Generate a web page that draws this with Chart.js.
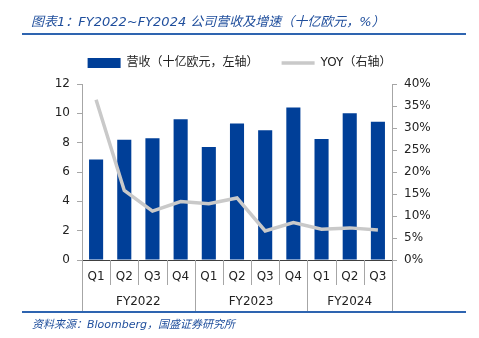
<!DOCTYPE html>
<html>
<head>
<meta charset="utf-8">
<script src="https://cdn.jsdelivr.net/npm/chart.js@4"></script>
<style>
  html, body { margin: 0; padding: 0; background: #fff; }
  #wrap { position: relative; width: 479px; height: 338px; overflow: hidden; }
  #title { position: absolute; left: 31px; top: 11px; font: italic 13px "DejaVu Sans", "Noto Sans CJK SC", sans-serif; color: #1f4e9c; white-space: nowrap; }
  #topline { position: absolute; left: 22px; top: 33px; width: 444px; height: 2px; background: #2e64b0; }
  #botline { position: absolute; left: 22px; top: 311px; width: 444px; height: 2px; background: #2e64b0; }
  #source { position: absolute; left: 32px; top: 315px; font: italic 11px "DejaVu Sans", "Noto Sans CJK SC", sans-serif; color: #1f4e9c; white-space: nowrap; }
  canvas { position: absolute; left: 0; top: 0; }
</style>
</head>
<body>
<div id="wrap">
  <canvas id="chart" width="479" height="338"></canvas>
  <div id="title">图表1：FY2022~FY2024 公司营收及增速（十亿欧元，%）</div>
  <div id="topline"></div>
  <div id="botline"></div>
  <div id="source">资料来源：Bloomberg，国盛证券研究所</div>
</div>
<script>
const quarters = ['Q1', 'Q2', 'Q3', 'Q4', 'Q1', 'Q2', 'Q3', 'Q4', 'Q1', 'Q2', 'Q3'];
const years = ['FY2022', 'FY2023', 'FY2024'];
const yearSizes = [4, 4, 3];
const revenue = [6.85, 8.2, 8.3, 9.6, 7.7, 9.3, 8.85, 10.4, 8.25, 10.0, 9.42];
const yoy = [36.4, 15.8, 11.1, 13.3, 12.8, 14.1, 6.6, 8.5, 7.0, 7.3, 6.8];
const leftTicks = [0, 2, 4, 6, 8, 10, 12];
const rightTicks = [0, 5, 10, 15, 20, 25, 30, 35, 40];

const font = '"DejaVu Sans", "Noto Sans CJK SC", sans-serif';

// a bit more room under the legend
const legendGap = {
  id: 'legendGap',
  beforeLayout(chart) {
    const lg = chart.legend;
    if (lg && !lg._gapPatched) {
      const fit = lg.fit;
      lg.fit = function () { fit.call(this); this.height += 5; };
      lg._gapPatched = true;
    }
  }
};

// separators between quarters and year labels under the x axis
const groupPlugin = {
  id: 'groups',
  afterDraw(chart) {
    const ctx = chart.ctx;
    const x = chart.scales.x;
    const bottom = chart.chartArea.bottom;
    const edges = [0];
    yearSizes.forEach(n => edges.push(edges[edges.length - 1] + n));
    ctx.save();
    ctx.strokeStyle = '#a6a6a6';
    ctx.lineWidth = 1;
    for (let i = 0; i <= quarters.length; i++) {
      const px = Math.round(x.getPixelForValue(i - 0.5)) + 0.5;
      const isEdge = edges.includes(i);
      ctx.beginPath();
      ctx.moveTo(px, bottom);
      ctx.lineTo(px, isEdge ? bottom + 51 : bottom + 25);
      ctx.stroke();
    }
    ctx.fillStyle = '#222';
    ctx.font = '12px ' + font;
    ctx.textAlign = 'center';
    ctx.textBaseline = 'middle';
    years.forEach((y, k) => {
      const a = x.getPixelForValue(edges[k] - 0.5);
      const b = x.getPixelForValue(edges[k + 1] - 0.5);
      ctx.fillText(y, (a + b) / 2, bottom + 42);
    });
    ctx.restore();
  }
};

new Chart(document.getElementById('chart'), {
  type: 'bar',
  data: {
    labels: quarters,
    datasets: [{
      type: 'bar',
      label: '营收（十亿欧元，左轴）',
      data: revenue,
      backgroundColor: '#003f98',
      yAxisID: 'y',
      categoryPercentage: 1,
      barPercentage: 0.5,
      order: 1
    }, {
      type: 'line',
      label: 'YOY（右轴）',
      data: yoy,
      borderColor: '#c9c9c9',
      backgroundColor: '#c9c9c9',
      borderWidth: 3.5,
      pointRadius: 0,
      tension: 0,
      yAxisID: 'y1',
      order: 0
    }]
  },
  options: {
    responsive: false,
    animation: false,
    layout: { padding: { top: 34, left: 0, right: 0, bottom: 0 } },
    plugins: {
      tooltip: { enabled: false },
      legend: {
        position: 'top',
        labels: {
          usePointStyle: true,
          pointStyleWidth: 33,
          boxHeight: 10,
          padding: 23,
          color: '#222',
          font: { family: font, size: 12 },
          sort: (a, b) => a.datasetIndex - b.datasetIndex,
          generateLabels(chart) {
            const items = Chart.defaults.plugins.legend.labels.generateLabels(chart);
            items.forEach(it => {
              if (it.datasetIndex === 0) { it.pointStyle = 'rect'; it.lineWidth = 0; }
              else { it.pointStyle = 'line'; it.lineWidth = 3.5; it.strokeStyle = '#c9c9c9'; }
            });
            return items;
          }
        }
      }
    },
    scales: {
      x: {
        offset: true,
        grid: { display: false, drawTicks: false },
        border: { color: '#404040' },
        ticks: { padding: 10, color: '#222', font: { family: font, size: 12 } },
        afterFit(s) { s.height = 78; }
      },
      y: {
        position: 'left',
        min: 0, max: 12,
        afterBuildTicks(s) { s.ticks = leftTicks.map(v => ({ value: v })); },
        grid: { drawOnChartArea: false, tickLength: 5, color: '#a6a6a6' },
        border: { color: '#a6a6a6' },
        ticks: { padding: 7, color: '#222', font: { family: font, size: 12 } },
        afterFit(s) { s.width = 82; }
      },
      y1: {
        position: 'right',
        min: 0, max: 40,
        afterBuildTicks(s) { s.ticks = rightTicks.map(v => ({ value: v })); },
        grid: { drawOnChartArea: false, tickLength: 5, color: '#a6a6a6' },
        border: { color: '#a6a6a6' },
        ticks: { padding: 7, color: '#222', font: { family: font, size: 12 }, callback: v => v + '%' },
        afterFit(s) { s.width = 87; }
      }
    }
  },
  plugins: [legendGap, groupPlugin]
});
</script>
</body>
</html>
